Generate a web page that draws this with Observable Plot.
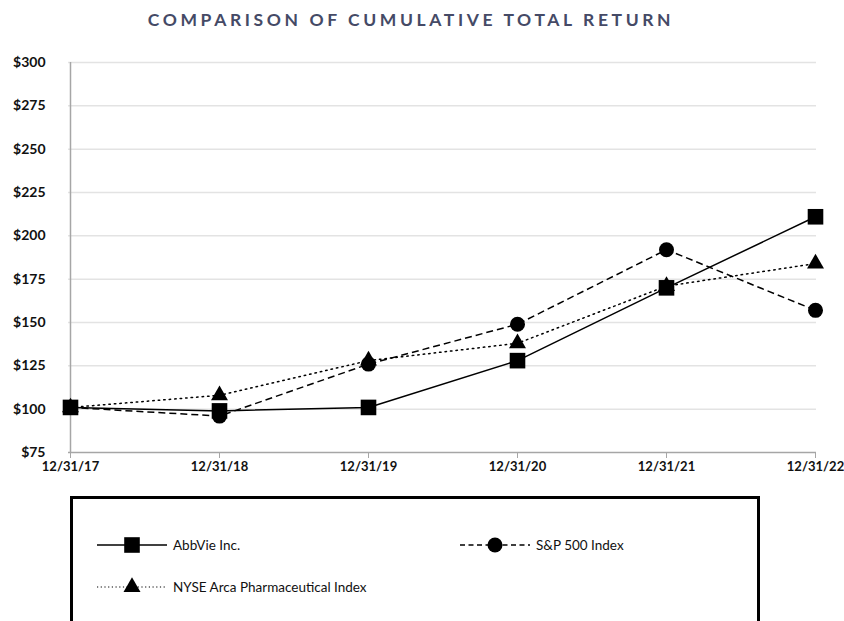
<!DOCTYPE html>
<html>
<head>
<meta charset="utf-8">
<script src="https://cdn.jsdelivr.net/npm/d3@7"></script>
<script src="https://cdn.jsdelivr.net/npm/@observablehq/plot@0.6"></script>
<style>
  body { margin: 0; background: #fff; font-family: Lato, "Open Sans", sans-serif; }
  #wrap { position: relative; width: 844px; height: 621px; overflow: hidden; }
  #title { position: absolute; top: 9px; left: 0; width: 822px; text-align: center;
    font-size: 17.5px; font-weight: 700; letter-spacing: 3.6px; color: #454a66; }
  #chart { position: absolute; top: 40px; left: 0; }
  #legend { position: absolute; left: 70px; top: 496px; width: 684px; height: 160px;
    border: 3px solid #000; background: #fff; }
  .item { position: absolute; display: flex; align-items: center; font-size: 13.5px; color: #111; }
  .item svg { margin-right: 6px; }
</style>
</head>
<body>
<div id="wrap">
  <div id="title">COMPARISON OF CUMULATIVE TOTAL RETURN</div>
  <div id="chart"></div>
  <div id="legend"></div>
</div>
<script>
const dates = ["12/31/17", "12/31/18", "12/31/19", "12/31/20", "12/31/21", "12/31/22"];
const abbvie = [101, 99, 101, 128, 170, 211];
const sp500 = [101, 96, 126, 149, 192, 157];
const nyseArca = [101, 108, 128, 138, 171, 184];
const yTicks = [75, 100, 125, 150, 175, 200, 225, 250, 275, 300];

const seriesDefs = [
  {name: "NYSE Arca Pharmaceutical Index", values: nyseArca, symbol: "triangle", r: 6.3, dash: "1.5,4"},
  {name: "S&P 500 Index", values: sp500, symbol: "circle", r: 7.5, dash: "7,4"},
  {name: "AbbVie Inc.", values: abbvie, symbol: "square", r: 8.8, dash: null}
];

const rows = seriesDefs.map(s => dates.map((d, i) => ({date: d, value: s.values[i], name: s.name})));

const marks = [
  Plot.ruleY(yTicks.filter(v => v > 75), {stroke: "#e3e3e3", strokeWidth: 1.5}),
  Plot.axisY({ticks: yTicks, tickSize: 0, tickPadding: 23, tickFormat: d => "$" + d,
    fontSize: 14, fontWeight: 700, fill: "#111"}),
  Plot.axisX({tickSize: 6, tickPadding: 3, fontSize: 13, fontWeight: 700, fill: "#111", stroke: "#a6a6a6"}),
  Plot.ruleX([dates[0]], {stroke: "#a6a6a6", strokeWidth: 1.5}),
  Plot.ruleY([75], {stroke: "#a6a6a6", strokeWidth: 1.5})
];
seriesDefs.forEach((s, k) => {
  marks.push(Plot.line(rows[k], {x: "date", y: "value", stroke: "#000", strokeWidth: 1.5,
    strokeDasharray: s.dash || undefined, strokeLinecap: s.dash === "1.5,4" ? "round" : "butt"}));
});
seriesDefs.forEach((s, k) => {
  marks.push(Plot.dot(rows[k], {x: "date", y: "value", symbol: () => s.symbol, r: s.r, fill: "#000", stroke: "none"}));
});

const chart = Plot.plot({
  width: 844,
  height: 440,
  marginLeft: 68,
  marginRight: 28,
  marginTop: 22,
  marginBottom: 28,
  style: {fontFamily: "Lato, 'Open Sans', sans-serif", background: "#fff", overflow: "visible"},
  x: {type: "point", domain: dates, padding: 0, label: null},
  y: {domain: [75, 300], label: null},
  marks
});
document.getElementById("chart").appendChild(chart);

// Legend
const legend = document.getElementById("legend");
const legendItems = [
  {def: seriesDefs[2], left: 24, top: 36},
  {def: seriesDefs[1], left: 387, top: 36},
  {def: seriesDefs[0], left: 24, top: 78}
];
const symbolPath = (sym, r) => d3.symbol(sym === "square" ? d3.symbolSquare : sym === "circle" ? d3.symbolCircle : d3.symbolTriangle, Math.PI * r * r)();
legendItems.forEach(({def, left, top}) => {
  const div = document.createElement("div");
  div.className = "item";
  div.style.left = left + "px";
  div.style.top = top + "px";
  const ns = "http://www.w3.org/2000/svg";
  const svg = document.createElementNS(ns, "svg");
  svg.setAttribute("width", 70);
  svg.setAttribute("height", 20);
  const line = document.createElementNS(ns, "line");
  line.setAttribute("x1", 0); line.setAttribute("x2", 70);
  line.setAttribute("y1", 10); line.setAttribute("y2", 10);
  line.setAttribute("stroke", "#000");
  line.setAttribute("stroke-width", def.dash === "1.5,4" ? 1.2 : 1.5);
  if (def.dash) line.setAttribute("stroke-dasharray", def.dash === "1.5,4" ? "1.2,2.5" : "5,3.5");
  svg.appendChild(line);
  const p = document.createElementNS(ns, "path");
  p.setAttribute("d", symbolPath(def.symbol, def.r));
  p.setAttribute("transform", "translate(35,10)");
  svg.appendChild(p);
  div.appendChild(svg);
  const t = document.createElement("span");
  t.textContent = def.name;
  div.appendChild(t);
  legend.appendChild(div);
});
</script>
</body>
</html>
